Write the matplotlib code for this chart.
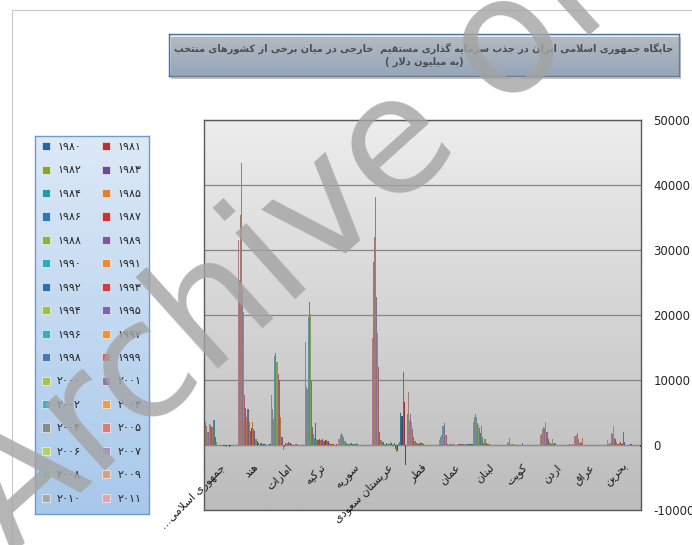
import numpy as np
import matplotlib.pyplot as plt
from matplotlib.patches import Patch, Rectangle
from matplotlib.colors import LinearSegmentedColormap, to_rgb

plt.rcParams["font.family"] = ["DejaVu Sans"]
plt.rcParams["axes.unicode_minus"] = False

W, H, DPI = 692, 545, 100

years = list(range(1980, 2012))

tick_labels = ["جمهوری اسلامی...", "هند", "امارات", "ترکیه", "سوریه", "عربستان سعودی",
               "قطر", "عمان", "لبنان", "کویت", "اردن", "عراق", "بحرین"]

# FDI inflows, million USD, 1980 .. 2011
iran = [-40, 20, -10, 50, 20, -40, -200, -300, 60, -20, -300, -150, -100, -200, 50, 20,
        30, 50, 30, 40, 500, 1300, 3800, 2800, 2800, 3100, 3300, 2000, 2000, 3000, 3600, 4300]
india = [80, 90, 70, 6, 20, 110, 120, 210, 90, 250, 240, 75, 280, 550, 970, 2100,
         2400, 3600, 2600, 2200, 3600, 5500, 5600, 4300, 5700, 7700, 20500, 24000, 43400, 35400, 25400, 31500]
uae = [-20, 50, -80, 60, -40, -50, 40, 100, 80, -50, -120, 30, 120, 270, 300, 400,
       300, 230, 260, -300, -770, 1200, 1300, 4300, 10000, 10900, 12800, 14200, 13700, 4000, 5500, 7700]
turkey = [18, 95, 55, 46, 110, 100, 125, 115, 350, 660, 680, 810, 840, 640, 610, 885,
          720, 805, 940, 800, 1000, 3350, 1100, 1750, 2800, 10000, 20200, 22000, 19700, 8600, 9000, 15800]
syria = [20, 20, 20, 20, 20, 20, 20, 30, 40, 60, 70, 60, 70, 175, 250, 100,
         90, 80, 80, 260, 270, 110, 115, 160, 275, 580, 650, 1200, 1500, 1900, 1500, 1000]
saudi = [-3100, 6600, 11200, 4400, 4900, 500, 200, -900, -1100, -600, 250, 160, -80, 300, 500, 150,
         100, 200, 300, -100, 180, 500, 450, 800, 2000, 12000, 17200, 22800, 38200, 32000, 28100, 16400]
qatar = [0, 0, 0, 0, 0, 0, 0, 0, 0, 0, 5, 60, 50, 70, 0, 95,
         340, 420, 350, 110, 250, 300, 625, 625, 1200, 2500, 3500, 4700, 3800, 8100, 4700, -90]
oman = [100, 130, 120, 160, 150, 160, 140, 30, 90, 110, 160, 150, 100, 140, 76, 30,
        60, 65, 100, 40, 80, 80, 120, 26, 110, 1540, 1600, 3330, 2950, 1500, 1240, 790]
lebanon = [0, 0, 5, 10, 4, 6, 5, 0, 0, 2, 6, 2, 4, 7, 23, 35,
           80, 150, 200, 250, 960, 250, 1300, 2900, 1900, 2600, 3100, 3400, 4300, 4800, 4300, 3500]
kuwait = [0, -50, -20, 10, 0, -40, -10, 0, 60, 0, 5, 0, -10, 13, 0, 7,
          350, 20, 59, 72, 16, -150, 4, -70, -20, 230, 120, 110, -10, 1100, 300, 400]
jordan = [34, 141, 64, 33, 79, 22, 23, 40, 24, -1, 38, -12, 41, -34, 3, 13,
          16, 360, 310, 160, 910, 170, 240, 440, 940, 2000, 3500, 2600, 2800, 2400, 1700, 1500]
iraq = [0, 0, 0, 0, 0, 0, 0, 0, 0, 0, 0, 0, 0, -1, 1, 2,
        1, 4, -10, -7, -3, -6, -10, 1100, 300, 520, 380, 1000, 1900, 1600, 1400, 1400]
bahrain = [-300, 10, 50, -20, 0, -40, -60, -40, 60, 180, -20, -100, -20, -50, -30, 430,
           2000, 330, 180, 450, 360, 80, 220, 520, 870, 1050, 2900, 1760, 1800, 260, 160, 780]

series_colors = [
    "#2166ac", "#b83232", "#8aa336", "#6a4a9a", "#1f9bb0", "#e67e22",
    "#2a78c0", "#d03030", "#90b040", "#7a56b0", "#2aacc0", "#f08a30",
    "#2a70b8", "#d83a3a", "#a0c040", "#8060b8", "#30b0c8", "#f59030",
    "#4a78b0", "#d85858", "#a8c050", "#8a74a8", "#40b0c8", "#f09a50",
    "#8a8a8a", "#e07878", "#b8d060", "#a890c8", "#70c8d8", "#d8a080",
    "#a8a8a8", "#e8a0b0",
]

# --- minimal Arabic/Persian shaping (matplotlib has no bidi / joining) ---
ARABIC_FORMS = {
    "ا": (0xFE8D, 2), "آ": (0xFE81, 2), "ب": (0xFE8F, 4), "ت": (0xFE95, 4),
    "ث": (0xFE99, 4), "ج": (0xFE9D, 4), "ح": (0xFEA1, 4), "خ": (0xFEA5, 4),
    "د": (0xFEA9, 2), "ذ": (0xFEAB, 2), "ر": (0xFEAD, 2), "ز": (0xFEAF, 2),
    "س": (0xFEB1, 4), "ش": (0xFEB5, 4), "ص": (0xFEB9, 4), "ض": (0xFEBD, 4),
    "ط": (0xFEC1, 4), "ظ": (0xFEC5, 4), "ع": (0xFEC9, 4), "غ": (0xFECD, 4),
    "ف": (0xFED1, 4), "ق": (0xFED5, 4), "ل": (0xFEDD, 4), "م": (0xFEE1, 4),
    "ن": (0xFEE5, 4), "ه": (0xFEE9, 4), "و": (0xFEED, 2),
    "پ": (0xFB56, 4), "چ": (0xFB7A, 4), "ژ": (0xFB8A, 2), "ک": (0xFB8E, 4),
    "گ": (0xFB92, 4), "ی": (0xFBFC, 4),
}


def rtl(text):
    chars = list(text)
    n = len(chars)
    out = []
    k = 0

    def joins_next(c):
        return c in ARABIC_FORMS and ARABIC_FORMS[c][1] == 4

    while k < n:
        c = chars[k]
        if c not in ARABIC_FORMS:
            out.append(c)
            k += 1
            continue
        prev_j = k > 0 and joins_next(chars[k - 1])
        if c == "ل" and k + 1 < n and chars[k + 1] == "ا":
            out.append("\uFEFC" if prev_j else "\uFEFB")
            k += 2
            continue
        base, cnt = ARABIC_FORMS[c]
        next_j = cnt == 4 and k + 1 < n and chars[k + 1] in ARABIC_FORMS
        if prev_j and next_j:
            off = 3
        elif prev_j:
            off = 1
        elif next_j:
            off = 2
        else:
            off = 0
        out.append(chr(base + off))
        k += 1
    mirror = {"(": ")", ")": "("}
    return "".join(mirror.get(c, c) for c in reversed(out))


def fa_digits(num):
    return "".join(chr(0x06F0 + int(d)) for d in str(num))


def px_rect(x0, y0, x1, y1):
    return [x0 / W, 1 - y1 / H, (x1 - x0) / W, (y1 - y0) / H]


def gradient_axes(rect, top, bottom, edge, lw=1.0):
    a = fig.add_axes(rect)
    cmap = LinearSegmentedColormap.from_list("g", [top, bottom])
    a.imshow(np.linspace(0, 1, 256).reshape(-1, 1), cmap=cmap, aspect="auto",
             extent=[0, 1, 0, 1])
    a.set_xlim(0, 1)
    a.set_ylim(0, 1)
    a.set_xticks([])
    a.set_yticks([])
    for s in a.spines.values():
        s.set_color(edge)
        s.set_linewidth(lw)
    return a


def shade(color, amount=0.35, dark="#3a3a3a"):
    c = np.array(to_rgb(color))
    d = np.array(to_rgb(dark))
    return tuple((1 - amount) * c + amount * d)


values = np.array([iran, india, uae, turkey, syria, saudi, qatar, oman,
                   lebanon, kuwait, jordan, iraq, bahrain], dtype=float)
n_cat, n_ser = values.shape

fig = plt.figure(figsize=(W / DPI, H / DPI), dpi=DPI)

# outer chart area border
fig.add_artist(Rectangle((12 / W, -0.2), 1.2, 1.2 - 10 / H, transform=fig.transFigure,
                         fill=False, ec="#c8c8c8", lw=0.8))

# main plot
ax = fig.add_axes(px_rect(204, 120, 641, 510))
bg = LinearSegmentedColormap.from_list("bg", ["#ededed", "#bcbcbc"])
ax.imshow(np.linspace(0, 1, 256).reshape(-1, 1), cmap=bg, aspect="auto",
          extent=[0, 1, 0, 1], transform=ax.transAxes, zorder=0)

width = 1.0 / n_ser
cat_x = np.arange(n_cat)
for j, yr in enumerate(years):
    xs = cat_x - 0.5 + (n_ser - 1 - j + 0.5) * width
    ax.bar(xs, values[:, j], width=width, color=shade(series_colors[j]), linewidth=0,
           zorder=2, label=fa_digits(yr))

ax.set_xlim(-0.5, n_cat - 0.5)
ax.set_ylim(-10000, 50000)
ax.set_yticks(range(-10000, 50001, 10000))
ax.yaxis.grid(True, color="#858585", lw=0.9)
ax.set_axisbelow(True)
ax.axhline(0, color="#8c8c8c", lw=0.9, zorder=1.5)
ax.set_xticks([])
ax.yaxis.tick_right()
ax.tick_params(axis="y", length=0, pad=9, labelsize=8.5, labelcolor="#262626")
for s in ax.spines.values():
    s.set_color("#5a5a5a")
    s.set_linewidth(1.0)

for i, lab in enumerate(tick_labels):
    ax.annotate(rtl(lab), xy=(i, 0), xytext=(-1, -12), textcoords="offset points",
                rotation=45, rotation_mode="anchor", ha="right", va="top",
                fontsize=8, color="#1a1a1a", annotation_clip=False)

# title box
fig.add_artist(Rectangle((171 / W, 1 - 79 / H), 510 / W, 42 / H, transform=fig.transFigure,
                         fc="#8a8a8a", ec="none", alpha=0.5))
ax_t = gradient_axes(px_rect(169, 34, 679, 76), "#e3eefa", "#9fc3ea", "#4f6f95")
title = (rtl("جایگاه جمهوری اسلامی ایران در جذب سرمایه گذاری مستقیم  خارجی در میان برخی از کشورهای منتخب")
         + "\n" + rtl("(به میلیون دلار )"))
ax_t.text(0.5, 0.5, title, ha="center", va="center", fontsize=7.0, fontweight="bold",
          color="#111111", linespacing=1.3)

# legend box
gradient_axes(px_rect(35, 136, 149, 514), "#dce9f7", "#a8c8ea", "#6c9bd0")
order = list(range(0, n_ser, 2)) + list(range(1, n_ser, 2))
handles = [Patch(facecolor=series_colors[j], edgecolor="#ffffff", lw=0.4) for j in order]
labels = [fa_digits(years[j]) for j in order]
leg = fig.legend(handles, labels, ncol=2, loc="upper left",
                 bbox_to_anchor=(42 / W, 1 - 142 / H), frameon=False, fontsize=8,
                 handlelength=0.75, handleheight=0.75, handletextpad=0.6,
                 columnspacing=1.9, labelspacing=1.21, borderaxespad=0, borderpad=0)
for t in leg.get_texts():
    t.set_color("#262626")

# watermark
fig.text(12 / W, 1 - 555 / H, "Archive of SID", rotation=42, rotation_mode="anchor",
         ha="left", va="baseline", fontsize=117, family="DejaVu Sans",
         color="#a3a3a3", alpha=0.8, zorder=50)

fig.savefig("out.png", dpi=DPI)
